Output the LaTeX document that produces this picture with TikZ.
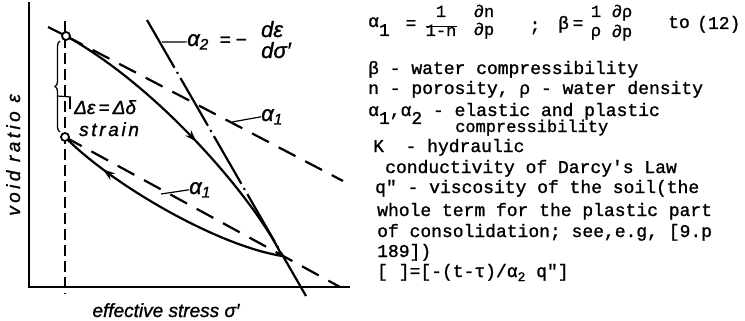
\documentclass[tikz,border=0pt]{standalone}
\usepackage{fontspec}
\setmonofont{Liberation Mono}[FakeBold=1.2]
\newfontfamily\labfont{Liberation Sans}[FakeBold=1.2]
\usetikzlibrary{arrows.meta,decorations.markings,decorations.pathreplacing}
\begin{document}
\begin{tikzpicture}[x=1pt,y=-1pt,
  tt/.style={font=\ttfamily\fontsize{18}{20}\selectfont, anchor=base west, inner sep=0pt},
  ttf/.style={font=\ttfamily\fontsize{17}{18}\selectfont, anchor=base, inner sep=0pt},
  lab/.style={font=\labfont\itshape\fontsize{19}{22}\selectfont, inner sep=0pt},
  labbig/.style={font=\labfont\itshape\fontsize{22}{24}\selectfont, inner sep=0pt},
  thickline/.style={line width=2.2pt},
  dashline/.style={line width=2.2pt, dash pattern=on 19pt off 11pt},
  dashdot/.style={line width=2.2pt, dash pattern=on 55pt off 5pt on 2pt off 5pt},
  leader/.style={line width=1.2pt},
  ring/.style={circle, draw, line width=1.8pt, fill=white, minimum size=8pt, inner sep=0pt},
  midarrow/.style={postaction={decorate}, decoration={markings, mark=at position #1 with {\arrow{Stealth[length=12pt,width=8pt]}}}},
]
\useasboundingbox (0,0) rectangle (745,321);

% axes
\coordinate (O) at (29,287);
\coordinate (ytop) at (29,2);
\coordinate (xend) at (350,287);
\draw[line width=2.6pt] (ytop) -- (O) -- (xend);

% key points
\coordinate (A) at (66,36);
\coordinate (B) at (65,137);
\coordinate (P) at (282,256);

% vertical dashed line
\coordinate (vtop) at (65,21);
\coordinate (vbot) at (65,294);
\draw[line width=1.2pt, dash pattern=on 11pt off 5pt] (vtop) -- (vbot);

% upper alpha1 tangent
\coordinate (u0) at (48,27);
\coordinate (u1) at (343,181);
\draw[thickline] (u0) -- (A);
\draw[dashline] (A) -- (u1);

% lower alpha1 tangent
\coordinate (l1) at (340,287);
\draw[dashline] (B) -- (l1);

% alpha2 dash-dot line
\coordinate (d0) at (147,20);
\coordinate (d1) at (306,296);
\draw[dashdot] (d0) -- (d1);

% loading and unloading curves
\draw[thickline, midarrow=0.54] (A) .. controls (160,88) and (255,200) .. (P);
\draw[thickline, midarrow=0.8] (P) .. controls (215,245) and (110,183) .. (B);

% circles
\node[ring] (cA) at (A) {};
\node[ring] (cB) at (B) {};

% brace
\draw[line width=1.3pt, decorate, decoration={brace, amplitude=5pt}] (60,132) -- (60,41);
\coordinate (bt) at (57,96);
\node[lab, anchor=base west] (de) at (74,114) {Δε\,=\,Δδ};
\node[lab, anchor=base west, font=\labfont\itshape\fontsize{19}{22}\selectfont\addfontfeatures{LetterSpace=14}] (st) at (79,136) {strain};
\draw[leader] (bt) -- (71,97);
\draw[leader] (70,97) -- (70,109);

% axis labels
\node[lab, rotate=90, anchor=base, font=\labfont\itshape\fontsize{19}{22}\selectfont\addfontfeatures{LetterSpace=18}] (yl) at (20,155) {void ratio ε};
\node[lab, anchor=base] (xl) at (166,317) {effective stress σ′};

% alpha2 label
\node[labbig, anchor=base west] (a2) at (187,46) {α\textsubscript{2}};
\node[lab, anchor=base] (eq) at (225,46) {=};
\node[lab, anchor=base] (mn) at (241,46) {−};
\node[labbig, anchor=base] (dn) at (272,37) {dε};
\node[labbig, anchor=base] (dd) at (276,58) {dσ′};
\coordinate (a2p) at (162,42);
\draw[leader] (a2p) -- (a2.west);

% alpha1 labels
\node[labbig, anchor=base west] (a1u) at (261,121) {α\textsubscript{1}};
\coordinate (a1up) at (232,122);
\draw[leader] (a1up) -- (a1u.west);
\node[labbig, anchor=base west] (a1l) at (189,194) {α\textsubscript{1}};
\coordinate (a1lp) at (161,194);
\draw[leader] (a1lp) -- (a1l.west);

% right text: formula line
\node[tt] (f1) at (368,27) {α\raisebox{-9pt}{1}};
\node[tt, anchor=base] (f2) at (411,29) {=};
\node[ttf] (f3) at (441,17) {1};
\node[ttf] (f4) at (441,36) {1-n};
\draw[line width=0.9pt] ([yshift=-2pt]f4.north west) -- ([yshift=-2pt]f4.north east);
\node[ttf] (f5) at (484,17) {∂n};
\node[ttf] (f6) at (484,35) {∂p};
\node[tt, anchor=base] (f7) at (535,31) {;};
\node[tt] (f8) at (558,29) {β};
\node[tt, anchor=base] (f9) at (578,29) {=};
\node[ttf] (f10) at (596,17) {1};
\node[ttf] (f11) at (596,36) {ρ};
\node[ttf] (f12) at (622,17) {∂ρ};
\node[ttf] (f13) at (622,37) {∂p};
\node[tt] (f14) at (668,28) {to};
\node[tt] (f15) at (697,29) {(12)};

% right text: other lines
\node[tt] (t2) at (368,74) {β - water compressibility};
\node[tt] (t3) at (368,94) {n - porosity, ρ - water density};
\node[tt] (t4) at (368,116) {α\raisebox{-8pt}{1},α\raisebox{-8pt}{2} - elastic and plastic};
\node[tt, font=\ttfamily\fontsize{17}{20}\selectfont] (t5) at (455,132) {compressibility};
\node[tt] (t6) at (373,152) {K~~-~hydraulic};
\node[tt] (t7) at (385,173) {conductivity of Darcy\textquotesingle s Law};
\node[tt] (t8) at (375,193) {q\textquotedbl{} - viscosity of the soil(the};
\node[tt] (t9) at (377,216) {whole term for the plastic part};
\node[tt] (t10) at (377,237) {of consolidation; see,e.g, [9.p};
\node[tt] (t11) at (377,257) {189])};
\node[tt] (t12) at (377,277) {[ ]=[-(t-τ)/α\raisebox{-4pt}{\fontsize{13}{13}\selectfont 2} q\textquotedbl{}]};
\end{tikzpicture}
\end{document}
